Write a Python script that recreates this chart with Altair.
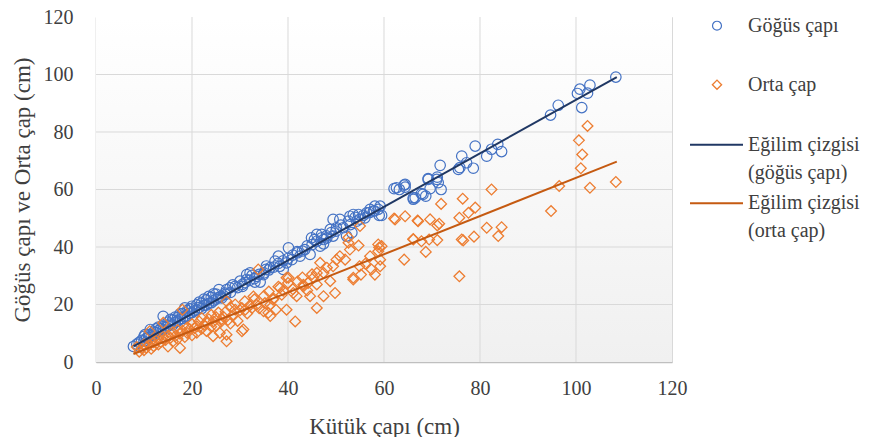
import altair as alt
import pandas as pd

# ---- data ----
gogus_kutuk = [7.8, 8.5, 9, 9.5, 10, 10, 10.2, 10.5, 11, 11, 11.3, 11.5, 12, 12, 12.5, 12.5, 13, 13, 13.5, 14, 14, 14,
               14.5, 15, 15, 15.5, 15.5, 16, 16, 16.5, 16.5, 17, 17, 17.5, 17.5, 18, 18, 18.5, 18.5, 19, 19, 19.5, 19.5,
               20, 20, 20, 20.5, 21, 21, 21.5, 21.5, 22, 22, 22.5, 22.5, 23, 23, 23.5, 23.5, 24, 24, 24.5, 24.5, 25, 25,
               25.5, 25.6, 26, 26.2, 26.9, 27, 27.2, 27.9, 28, 28.5, 29, 29.5, 30, 30.5, 30.5, 31, 31.4, 31.4, 32, 32.1,
               32.5, 33, 33.1, 33.5, 34, 34.2, 34.9, 35, 35.4, 35.5, 36, 36.3, 37, 37.3, 38, 38, 38.3, 39, 39, 39.7, 40,
               40.1, 40.8, 41, 41.9, 42, 42.5, 43, 43.5, 44, 44.6, 44.9, 45, 45.5, 46, 46, 46.7, 47, 47, 47.4, 47.4, 48,
               48.1, 48.8, 49, 49.4, 49.4, 50, 50.1, 50.8, 51, 51.5, 52.2, 52.6, 52.9, 53, 53.3, 53.6, 54, 54.3, 54.7,
               55, 55.7, 56, 56.4, 57, 57.1, 57.8, 58, 58.1, 58.8, 59, 59.2, 59.5, 62.1, 62.6, 63.2, 64.2, 64.4, 64.4,
               66.1, 66.1, 66.5, 67.8, 68.1, 68.7, 69.2, 69.2, 69.6, 71.0, 71.1, 71.3, 71.7, 71.9, 75.5, 75.8, 76.2,
               77.2, 78.6, 79.0, 81.4, 82.4, 83.7, 84.5, 94.7, 96.3, 100.3, 100.8, 101.2, 102.4, 102.9, 108.3]
gogus_cap = [5.4, 6.2, 6.8, 7.5, 7.3, 8.9, 9.5, 8.2, 9.5, 8.6, 11.3, 9.1, 10.4, 9.6, 10.2, 11.5, 10.9, 12.1, 11.6, 11.2,
             12.8, 15.9, 12.0, 12.6, 13.9, 13.2, 14.8, 12.9, 14.6, 13.8, 15.6, 14.2, 15.5, 14.9, 16.7, 15.1, 16.8, 15.8,
             18.8, 16.0, 17.9, 16.9, 18.5, 17.2, 18.7, 19.4, 17.8, 18.1, 19.9, 18.9, 20.8, 18.6, 20.5, 19.7, 21.9, 19.8,
             21.6, 20.4, 22.8, 20.6, 22.5, 21.3, 23.7, 21.9, 23.6, 22.4, 25.2, 22.8, 22.3, 24.0, 23.5, 25.2, 25.8, 24.2,
             26.8, 26.3, 25.9, 28.1, 26.3, 27.0, 27.6, 28.7, 30.4, 28.4, 31.0, 30.1, 29.0, 27.8, 29.8, 30.5, 27.8, 30.4,
             31.0, 32.2, 33.4, 32.0, 32.8, 33.0, 35.1, 34.3, 36.8, 33.3, 32.2, 35.2, 34.5, 36.0, 39.7, 35.6, 37.2, 38.4,
             38.0, 36.8, 38.6, 39.1, 40.4, 37.4, 43.2, 40.8, 42.6, 44.4, 42.0, 40.3, 43.2, 44.4, 41.1, 42.6, 43.9, 43.2,
             46.1, 45.0, 43.8, 49.6, 45.5, 46.7, 49.6, 47.6, 46.7, 43.8, 49.0, 50.7, 47.8, 45.0, 51.3, 50.3, 49.0, 51.3,
             49.7, 51.0, 50.1, 51.9, 52.0, 53.1, 52.5, 52.6, 54.2, 53.1, 51.0, 54.2, 51.0, 60.3, 60.6, 60.0, 61.5, 60.8,
             61.8, 56.6, 57.1, 57.1, 58.6, 58.3, 57.7, 63.8, 63.5, 60.3, 63.5, 64.3, 62.4, 68.4, 60.0, 67.0, 67.6, 71.6,
             69.3, 67.4, 75.1, 71.6, 74.0, 75.7, 73.2, 85.9, 89.3, 93.4, 94.9, 88.5, 93.5, 96.3, 99.1]

orta_kutuk = [8.5, 9, 9.5, 10, 10, 10.5, 11, 11.2, 11.5, 12, 12, 12.5, 13, 13, 13.5, 14, 14, 14.5, 15, 15, 15.5, 16, 16,
              16.5, 17, 17, 17.5, 17.5, 18, 18, 18.5, 19, 19, 19.5, 20, 20, 20.5, 21, 21, 21.5, 22, 22, 22.5, 23, 23,
              23.5, 24, 24, 24.4, 24.5, 25, 25, 25.5, 25.8, 26, 26.2, 26.5, 27, 27.2, 27.2, 27.2, 27.5, 28, 28, 28.5,
              29, 29, 29.5, 30, 30.4, 30.4, 30.7, 31, 31.1, 31.5, 32, 32.5, 32.8, 33, 33.5, 33.8, 34, 34.9, 35, 35.2,
              35.9, 36, 36.3, 36.3, 36.9, 37, 37.5, 38, 38.3, 38.7, 39, 39.7, 39.7, 40, 40.1, 41, 41.1, 41.5, 41.8, 42,
              43, 43.2, 43.2, 44, 44.2, 44.6, 45, 45.3, 46, 46, 46, 46.7, 47.4, 47.4, 48.1, 48.8, 49.4, 49.8, 50.1,
              50.8, 51.9, 52.6, 52.6, 52.9, 53.6, 53.6, 54.7, 54.9, 55, 55.2, 56.1, 57.1, 57.4, 58.1, 58.8, 58.8, 59,
              59.2, 59.2, 59.5, 62.1, 62.3, 64.2, 64.4, 66.1, 66.1, 67, 67.1, 67.8, 68.7, 69.4, 69.6, 71.1, 71.1, 71.5,
              71.9, 75.7, 75.7, 76.2, 76.5, 76.4, 77.6, 78.75, 79.0, 81.4, 82.4, 83.8, 84.5, 94.8, 96.5, 100.6, 101.0,
              101.3, 102.4, 102.9, 108.3]
orta_cap = [5.2, 3.6, 4.8, 4.1, 6.2, 5.0, 5.8, 10.7, 4.6, 6.9, 5.5, 7.4, 6.1, 8.3, 7.0, 13.6, 8.8, 7.7, 5.4, 9.2, 8.4,
            7.1, 10.3, 9.0, 11.1, 8.0, 4.9, 9.8, 18.2, 10.9, 8.7, 12.0, 10.1, 11.5, 9.3, 13.2, 11.8, 12.4, 10.2, 14.1,
            11.6, 15.3, 12.9, 13.8, 10.8, 14.9, 12.3, 16.4, 9.0, 14.1, 15.6, 12.7, 17.2, 10.1, 13.9, 14.9, 15.8, 17.5,
            7.2, 9.5, 21.1, 14.6, 19.1, 13.4, 16.0, 18.2, 20.0, 14.3, 18.0, 10.7, 18.8, 11.3, 21.1, 18.2, 16.9, 19.6,
            18.8, 22.8, 21.8, 19.9, 32.2, 18.7, 17.7, 23.0, 20.5, 17.1, 24.5, 19.9, 16.0, 21.7, 22.1, 18.2, 26.2, 25.8,
            23.4, 24.8, 18.2, 29.3, 27.5, 29.3, 25.3, 24.0, 14.1, 22.9, 28.0, 29.4, 26.9, 26.3, 24.9, 27.5, 22.9, 30.5,
            29.3, 27.0, 31.0, 18.8, 34.5, 31.0, 22.9, 32.8, 28.1, 33.3, 24.0, 35.6, 36.8, 35.6, 41.5, 43.3, 39.1, 29.3,
            28.7, 40.5, 33.3, 47.3, 30.4, 34.2, 36.8, 32.2, 30.4, 40.9, 38.5, 39.8, 35.6, 33.3, 40.3, 49.9, 49.6, 35.6,
            50.7, 42.8, 42.6, 49.2, 49.0, 42.0, 38.3, 42.6, 49.6, 47.5, 42.4, 48.1, 55.0, 50.2, 29.8, 42.6, 42.3, 56.8,
            51.9, 43.6, 53.7, 46.7, 60.0, 43.8, 46.9, 52.5, 61.2, 77.1, 67.4, 72.2, 82.1, 60.6, 62.6]

trend_kutuk = [7.8, 108.5]
trend_gogus = [5.4, 99.1]
trend_orta = [2.8, 69.7]

tick_values = [0, 20, 40, 60, 80, 100, 120]
grid_values = [20, 40, 60, 80, 100]

legend_labels = ["Göğüs çapı", "Orta çap", "Eğilim çizgisi\n(göğüs çapı)", "Eğilim çizgisi\n(orta çap)"]

# ---- style ----
FONT = "Times New Roman, Liberation Serif, Times, serif"
BLUE = "#4472C4"
ORANGE = "#ED7D31"
NAVY = "#203864"
DARK_ORANGE = "#C55A11"
TXT = "#404040"
W, H = 576, 345

blue_df = pd.DataFrame({"x": gogus_kutuk, "y": gogus_cap})
orange_df = pd.DataFrame({"x": orta_kutuk, "y": orta_cap})
trend_blue_df = pd.DataFrame({"x": trend_kutuk, "y": trend_gogus})
trend_orange_df = pd.DataFrame({"x": trend_kutuk, "y": trend_orta})
gx_df = pd.DataFrame({"x": grid_values})
gy_df = pd.DataFrame({"y": grid_values})
one = pd.DataFrame({"a": [0]})

sx = alt.Scale(domain=[0, 120], nice=False, zero=False)
sy = alt.Scale(domain=[0, 120], nice=False, zero=False)

x_axis = alt.Axis(values=tick_values, grid=False, ticks=False, tickSize=0, labelFont=FONT, labelFontSize=20,
                  labelColor=TXT, labelPadding=26, labelBaseline="middle", labelFlush=False,
                  labelOverlap=False, domainColor="#bfbfbf", domainWidth=1.5, title="Kütük çapı (cm)",
                  titleFont=FONT, titleFontSize=23, titleFontWeight="normal", titleColor=TXT,
                  titleX=288, titleY=64, titleBaseline="middle", titleAlign="center")
y_axis = alt.Axis(values=tick_values, grid=False, ticks=False, tickSize=0, labelFont=FONT, labelFontSize=20,
                  labelColor=TXT, labelPadding=23, labelBaseline="middle", labelFlush=False,
                  labelOverlap=False, domainColor="#bfbfbf", domainWidth=1.5, title="Göğüs çapı ve Orta çap (cm)",
                  titleFont=FONT, titleFontSize=23, titleFontWeight="normal", titleColor=TXT,
                  titleX=-74, titleY=172.5, titleAngle=-90, titleBaseline="middle", titleAlign="center")

gradient = alt.LinearGradient(gradient="linear", x1=0, y1=0, x2=0, y2=1,
                              stops=[alt.GradientStop(color="#ffffff", offset=0),
                                     alt.GradientStop(color="#f0f0f0", offset=1)])

bg = alt.Chart(one).mark_rect(color=gradient).encode(
    x=alt.value(0), x2=alt.value(W), y=alt.value(0), y2=alt.value(H))

grid_v = alt.Chart(gx_df).mark_rule(color="#d9d9d9", strokeWidth=1).encode(
    x=alt.X("x:Q", scale=sx, axis=x_axis))
grid_h = alt.Chart(gy_df).mark_rule(color="#d9d9d9", strokeWidth=1).encode(
    y=alt.Y("y:Q", scale=sy, axis=y_axis))

pts_blue = alt.Chart(blue_df).mark_point(shape="circle", filled=False, size=110, strokeWidth=1.2,
                                         color=BLUE, opacity=1).encode(
    x=alt.X("x:Q", scale=sx, axis=x_axis), y=alt.Y("y:Q", scale=sy, axis=y_axis))
pts_orange = alt.Chart(orange_df).mark_point(shape="diamond", filled=False, size=115, strokeWidth=1.3,
                                             color=ORANGE, opacity=1).encode(
    x=alt.X("x:Q", scale=sx, axis=x_axis), y=alt.Y("y:Q", scale=sy, axis=y_axis))
line_blue = alt.Chart(trend_blue_df).mark_line(color=NAVY, strokeWidth=2).encode(
    x=alt.X("x:Q", scale=sx, axis=x_axis), y=alt.Y("y:Q", scale=sy, axis=y_axis))
line_orange = alt.Chart(trend_orange_df).mark_line(color=DARK_ORANGE, strokeWidth=2).encode(
    x=alt.X("x:Q", scale=sx, axis=x_axis), y=alt.Y("y:Q", scale=sy, axis=y_axis))

# ---- legend (drawn to the right of the plot area) ----
LX_SYM, LX_TXT = 621, 652
leg_sym1 = alt.Chart(one).mark_point(shape="circle", filled=False, size=80, strokeWidth=1.2, color=BLUE,
                                     opacity=1).encode(x=alt.value(LX_SYM), y=alt.value(8.7))
leg_sym2 = alt.Chart(one).mark_point(shape="diamond", filled=False, size=85, strokeWidth=1.3, color=ORANGE,
                                     opacity=1).encode(x=alt.value(LX_SYM), y=alt.value(67.7))
leg_line1 = alt.Chart(one).mark_rule(color=NAVY, strokeWidth=2).encode(
    x=alt.value(594), x2=alt.value(647), y=alt.value(127.7))
leg_line2 = alt.Chart(one).mark_rule(color=DARK_ORANGE, strokeWidth=2).encode(
    x=alt.value(594), x2=alt.value(647), y=alt.value(186.2))

text_style = dict(font=FONT, fontSize=20, color=TXT, align="left", baseline="middle",
                  lineBreak="\n", lineHeight=28)
leg_t1 = alt.Chart(one).mark_text(**text_style).encode(
    x=alt.value(LX_TXT), y=alt.value(8.7), text=alt.value(legend_labels[0]))
leg_t2 = alt.Chart(one).mark_text(**text_style).encode(
    x=alt.value(LX_TXT), y=alt.value(67.7), text=alt.value(legend_labels[1]))
leg_t3 = alt.Chart(one).mark_text(**text_style).encode(
    x=alt.value(LX_TXT), y=alt.value(127.7), text=alt.value(legend_labels[2]))
leg_t4 = alt.Chart(one).mark_text(**text_style).encode(
    x=alt.value(LX_TXT), y=alt.value(186.2), text=alt.value(legend_labels[3]))

chart = alt.layer(
    bg, grid_v, grid_h, pts_blue, pts_orange, line_blue, line_orange,
    leg_sym1, leg_sym2, leg_line1, leg_line2, leg_t1, leg_t2, leg_t3, leg_t4
).properties(
    width=W, height=H,
    autosize=alt.AutoSizeParams(type="none"),
    padding={"left": 88, "top": 9, "right": 200, "bottom": 75},
    background="white",
).configure_view(stroke="#d9d9d9", strokeWidth=1)

chart.save("out.html", embed_options={"renderer": "svg", "actions": False})
